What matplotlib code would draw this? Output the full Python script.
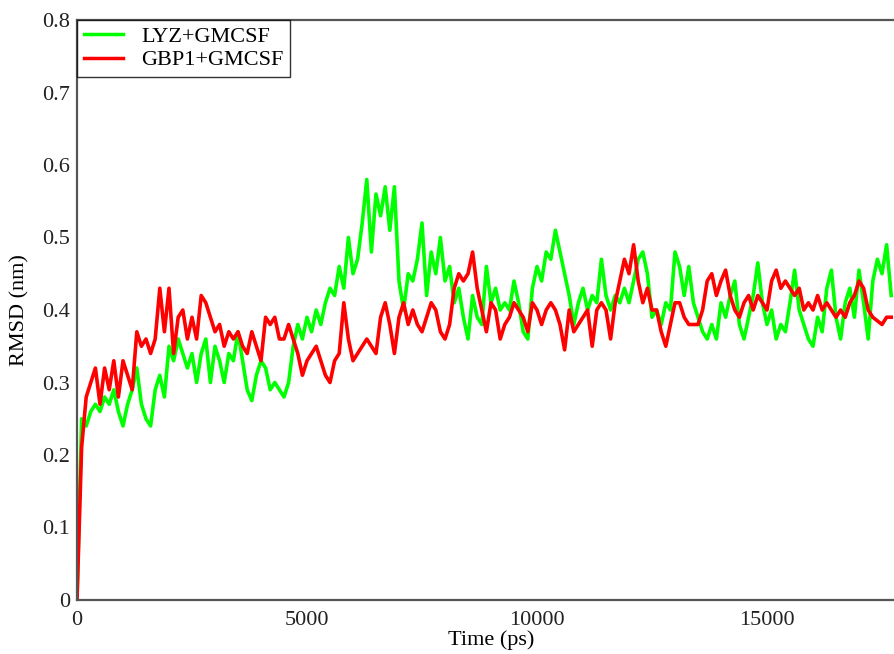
import matplotlib
matplotlib.use("Agg")
import matplotlib.pyplot as plt
import numpy as np

time_step_ps = 100
lyz_gmcsf = [
    0.00, 0.25, 0.24, 0.26, 0.27, 0.26, 0.28, 0.27, 0.29, 0.26,
    0.24, 0.27, 0.29, 0.32, 0.27, 0.25, 0.24, 0.29, 0.31, 0.28,
    0.35, 0.33, 0.36, 0.34, 0.32, 0.34, 0.30, 0.34, 0.36, 0.30,
    0.35, 0.33, 0.30, 0.34, 0.33, 0.37, 0.33, 0.29, 0.275, 0.31,
    0.33, 0.32, 0.29, 0.30, 0.29, 0.28, 0.30, 0.35, 0.38, 0.36,
    0.39, 0.37, 0.40, 0.38, 0.41, 0.43, 0.42, 0.46, 0.43, 0.50,
    0.45, 0.47, 0.52, 0.58, 0.48, 0.56, 0.53, 0.57, 0.51, 0.57,
    0.44, 0.40, 0.45, 0.44, 0.47, 0.52, 0.42, 0.48, 0.45, 0.50,
    0.44, 0.46, 0.41, 0.43, 0.39, 0.36, 0.42, 0.39, 0.38, 0.46,
    0.41, 0.43, 0.40, 0.41, 0.40, 0.44, 0.41, 0.37, 0.36, 0.43,
    0.46, 0.44, 0.48, 0.47, 0.51, 0.48, 0.45, 0.42, 0.38, 0.41,
    0.43, 0.40, 0.42, 0.41, 0.47, 0.42, 0.40, 0.42, 0.41, 0.43,
    0.41, 0.44, 0.47, 0.48, 0.45, 0.39, 0.40, 0.38, 0.41, 0.40,
    0.48, 0.46, 0.42, 0.46, 0.41, 0.39, 0.37, 0.36, 0.38, 0.36,
    0.41, 0.39, 0.42, 0.44, 0.38, 0.36, 0.39, 0.42, 0.465, 0.41,
    0.38, 0.40, 0.36, 0.38, 0.37, 0.41, 0.455, 0.40, 0.38, 0.36,
    0.35, 0.39, 0.37, 0.43, 0.455, 0.39, 0.36, 0.41, 0.43, 0.39,
    0.455, 0.41, 0.36, 0.44, 0.47, 0.45, 0.49, 0.42,
]
gbp1_gmcsf = [
    0.00, 0.21, 0.28, 0.30, 0.32, 0.27, 0.32, 0.29, 0.33, 0.28,
    0.33, 0.31, 0.29, 0.37, 0.35, 0.36, 0.34, 0.36, 0.43, 0.37,
    0.43, 0.34, 0.39, 0.40, 0.36, 0.39, 0.36, 0.42, 0.41, 0.39,
    0.37, 0.38, 0.35, 0.37, 0.36, 0.37, 0.35, 0.34, 0.37, 0.35,
    0.33, 0.39, 0.38, 0.39, 0.36, 0.36, 0.38, 0.36, 0.34, 0.31,
    0.33, 0.34, 0.35, 0.33, 0.31, 0.30, 0.33, 0.34, 0.41, 0.36,
    0.33, 0.34, 0.35, 0.36, 0.35, 0.34, 0.39, 0.41, 0.38, 0.34,
    0.39, 0.41, 0.38, 0.40, 0.38, 0.37, 0.39, 0.41, 0.40, 0.37,
    0.36, 0.38, 0.43, 0.45, 0.44, 0.45, 0.48, 0.43, 0.40, 0.37,
    0.41, 0.40, 0.36, 0.38, 0.39, 0.41, 0.40, 0.39, 0.37, 0.41,
    0.40, 0.38, 0.40, 0.41, 0.40, 0.38, 0.345, 0.40, 0.37, 0.38,
    0.39, 0.40, 0.35, 0.40, 0.41, 0.40, 0.36, 0.41, 0.44, 0.47,
    0.45, 0.49, 0.44, 0.41, 0.43, 0.40, 0.40, 0.37, 0.35, 0.38,
    0.41, 0.41, 0.39, 0.38, 0.38, 0.38, 0.40, 0.44, 0.45, 0.42,
    0.44, 0.455, 0.42, 0.40, 0.39, 0.41, 0.42, 0.40, 0.42, 0.41,
    0.40, 0.44, 0.455, 0.43, 0.44, 0.43, 0.42, 0.43, 0.40, 0.41,
    0.40, 0.42, 0.40, 0.41, 0.40, 0.39, 0.40, 0.39, 0.41, 0.42,
    0.44, 0.43, 0.40, 0.39, 0.385, 0.38, 0.39, 0.39,
]
series_labels = ["LYZ+GMCSF", "GBP1+GMCSF"]
series_colors = ["#00ff00", "#ff0000"]
x_ticks = [0, 5000, 10000, 15000]
y_ticks = [0, 0.1, 0.2, 0.3, 0.4, 0.5, 0.6, 0.7, 0.8]
y_tick_labels = ["0", "0.1", "0.2", "0.3", "0.4", "0.5", "0.6", "0.7", "0.8"]

t_lyz = np.arange(len(lyz_gmcsf)) * time_step_ps
t_gbp = np.arange(len(gbp1_gmcsf)) * time_step_ps

plt.rcParams['font.family'] = ['Liberation Serif', 'DejaVu Serif']
fs = 16

fig = plt.figure(figsize=(8.95, 6.54), dpi=100)
ax = fig.add_axes([77 / 895, 54 / 654, 828 / 895, 580 / 654])

ax.plot(t_lyz, lyz_gmcsf, color=series_colors[0], lw=2.6, label=series_labels[0])
ax.plot(t_gbp, gbp1_gmcsf, color=series_colors[1], lw=2.6, label=series_labels[1])

ax.set_xlim(0, 18000)
ax.set_ylim(0, 0.8)
ax.set_xticks(x_ticks)
ax.set_xticklabels([str(v) for v in x_ticks])
ax.set_yticks(y_ticks)
ax.set_yticklabels(y_tick_labels)
ax.tick_params(axis='both', length=0, labelsize=fs, colors='#222222')
ax.tick_params(axis='x', pad=8)
ax.tick_params(axis='y', pad=5)
for s in ax.spines.values():
    s.set_color('#555555')
    s.set_linewidth(1.6)

ax.set_xlabel("Time (ps)", fontsize=fs)
ax.xaxis.set_label_coords(0.5, -0.053)
ax.set_ylabel("RMSD (nm)", fontsize=fs)
ax.yaxis.set_label_coords(-0.057, 0.5)

leg = ax.legend(loc='upper left', bbox_to_anchor=(0, 1), borderaxespad=0,
                fancybox=False, frameon=True, fontsize=fs,
                handlelength=1.75, handletextpad=0.85, labelspacing=0.12,
                borderpad=0.3)
leg.get_frame().set_edgecolor('black')
leg.get_frame().set_linewidth(1.0)
for line in leg.get_lines():
    line.set_linewidth(2.5)

fig.savefig("out.png", dpi=100)
